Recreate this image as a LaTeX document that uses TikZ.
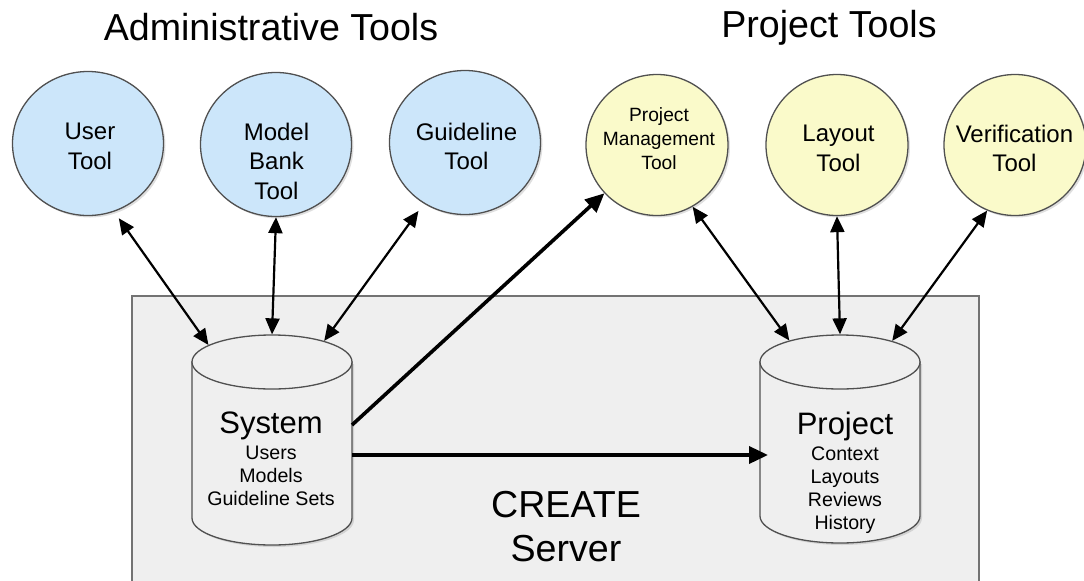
\documentclass[tikz,border=0pt]{standalone}
\usepackage{fontspec}
\setmainfont{Liberation Sans}
\usetikzlibrary{shapes.geometric,arrows.meta,shadows}

\definecolor{admblue}{RGB}{204,230,250}
\definecolor{prjyellow}{RGB}{250,250,202}
\definecolor{srvgray}{RGB}{239,239,239}
\definecolor{rimgray}{RGB}{80,80,80}

\begin{document}
\begin{tikzpicture}[x=0.5pt, y=-0.5pt,
    tool/.style={ellipse, draw=rimgray, line width=0.65pt, inner sep=0pt,
                 drop shadow={opacity=0.25, shadow xshift=1pt, shadow yshift=-1pt}},
    admin/.style={tool, fill=admblue, minimum width=75.5pt, minimum height=72pt},
    proj/.style={tool, fill=prjyellow, minimum width=71pt, minimum height=70.5pt},
    toollabel/.style={align=center, inner sep=0pt, font=\fontsize{12}{14.75}\selectfont},
    dbbody/.style={draw=rimgray, line width=0.65pt, fill=srvgray,
                   drop shadow={opacity=0.25, shadow xshift=1pt, shadow yshift=-1pt}},
    dbtop/.style={ellipse, draw=rimgray, line width=0.65pt, fill=srvgray, inner sep=0pt,
                  minimum width=80pt, minimum height=27pt},
    dblabel/.style={align=center, inner sep=0pt, font=\fontsize{9.8}{11.5}\selectfont},
    heading/.style={anchor=base, inner sep=0pt, font=\fontsize{18.8}{22}\selectfont},
    link/.style={{Triangle[length=8pt,width=7pt]}-{Triangle[length=8pt,width=7pt]}, line width=1.1pt},
    feed/.style={-{Triangle[length=9.5pt,width=8.5pt]}, line width=1.8pt}]

    \useasboundingbox (0,0) rectangle (1084,580);

    % headings
    \node[heading] (adm-title) at (271,40) {Administrative Tools};
    \node[heading] (prj-title) at (829,37) {Project Tools};

    % server box
    \draw[draw=rimgray!80, fill=srvgray, line width=0.8pt] (132,296) rectangle (979,620);
    \node[align=center, inner sep=0pt, font=\fontsize{18.8}{22}\selectfont] (srv-t) at (566,527) {CREATE\\Server};

    % tools
    \node[admin] (user)   at (88,143.5)  {};
    \node[admin] (bank)   at (276,144.5) {};
    \node[admin] (guide)  at (465,142.5) {};
    \node[proj]  (pm)     at (657,145)   {};
    \node[proj]  (layout) at (837,145)   {};
    \node[proj]  (verif)  at (1015,145)  {};

    \node[toollabel] (user-t)   at (90,146.5)    {User\\Tool};
    \node[toollabel] (bank-t)   at (276.5,161)   {Model\\Bank\\Tool};
    \node[toollabel] (guide-t)  at (466.5,146.5) {Guideline\\Tool};
    \node[toollabel, font=\fontsize{9.6}{12}\selectfont] (pm-t) at (659,139) {Project\\Management\\Tool};
    \node[toollabel] (layout-t) at (838.5,148.5) {Layout\\Tool};
    \node[toollabel] (verif-t)  at (1014.5,148.5) {Verification\\Tool};

    % stores
    \path[dbbody] (192,362) -- (192,518) arc[start angle=180, end angle=0, x radius=80, y radius=27] -- (352,362) -- cycle;
    \node[dbtop] (sys-top) at (272,362) {};
    \coordinate (sys-e) at (352,440);

    \path[dbbody] (760,362) -- (760,516) arc[start angle=180, end angle=0, x radius=80, y radius=27] -- (920,362) -- cycle;
    \node[dbtop] (prj-top) at (840,362) {};
    \coordinate (prj-w) at (760,440);

    \node[dblabel] (sys-t) at (271,459) {{\fontsize{15.5}{17}\selectfont System}\\[1.75pt]Users\\Models\\Guideline Sets};
    \node[dblabel] (prj-t) at (845,473) {{\fontsize{15.5}{17}\selectfont Project}\\[1.75pt]Context\\Layouts\\Reviews\\History};

    % connectors
    \draw[link, shorten <=4pt]   (user.291)    -- (sys-top.165);
    \draw[link]                  (bank.south)  -- (sys-top.north);
    \draw[link, shorten <=4.5pt] (guide.236)   -- (sys-top.22);
    \draw[link]                  (pm.300)      -- (prj-top.157);
    \draw[link]                  (layout.south) -- (prj-top.north);
    \draw[link]                  (verif.247)   -- (prj-top.22);

    \draw[feed] ([yshift=7.5pt]sys-e)  -- (pm);
    \draw[feed, shorten >=-4pt] ([yshift=-7.5pt]sys-e) -- ([yshift=-7.5pt]prj-w);
\end{tikzpicture}
\end{document}
